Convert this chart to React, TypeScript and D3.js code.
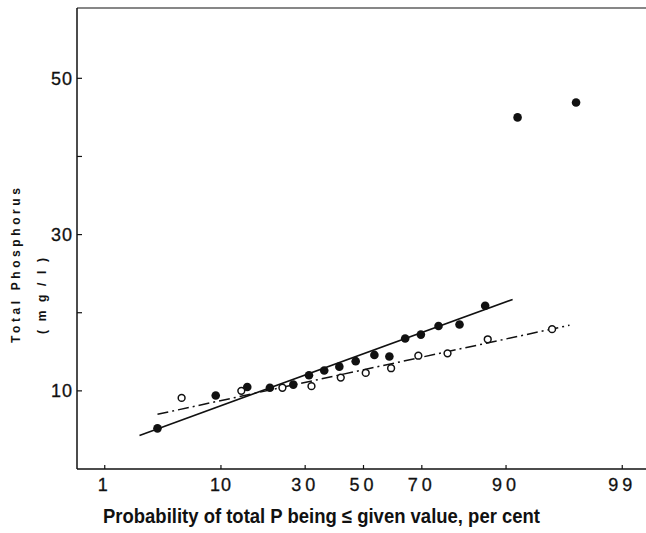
import React from "react";
import * as d3 from "d3";

// Filled circles (series 1): cumulative probability (%) and total P (mg/l)
const filledProb = [3.2, 9.2, 14.8, 20.0, 26.4, 31.2, 36.2, 41.4, 47.2, 53.9, 59.2, 64.6, 69.7, 75.0, 80.6, 86.3, 91.7, 97.2];
const filledValue = [5.2, 9.4, 10.5, 10.4, 10.8, 12.0, 12.6, 13.1, 13.8, 14.6, 14.4, 16.7, 17.2, 18.3, 18.5, 20.9, 45.0, 46.9];

// Open circles (series 2)
const openProb = [5.1, 13.6, 23.3, 32.0, 41.9, 50.8, 59.8, 68.9, 77.5, 86.8, 95.5];
const openValue = [9.1, 10.0, 10.4, 10.6, 11.7, 12.3, 12.9, 14.5, 14.8, 16.6, 17.9];

// Fitted lines
const solidLineProb = [2.2, 91.0];
const solidLineValue = [4.3, 21.7];
const dashLineProb = [3.2, 96.8];
const dashLineValue = [7.0, 18.4];

// Axes
const xTickValues = [1, 10, 30, 50, 70, 90, 99];
const xTickLabels = ["1", "10", "30", "50", "70", "90", "99"];
const yTickValues = [10, 20, 30, 40, 50];
const yTickLabels = ["10", "", "30", "", "50"];
const xDomainProb = [0.5, 99.5];
const yDomain = [0, 59];

const xTitle = "Probability of total P being \u2264 given value, per cent";
const yTitle1 = "Total  Phosphorus";
const yTitle2 = "(mg/l)";

// inverse standard normal CDF (Acklam)
function probit(p: number): number {
  const a = [-3.969683028665376e1, 2.209460984245205e2, -2.759285104469687e2, 1.38357751867269e2, -3.066479806614716e1, 2.506628277459239];
  const b = [-5.447609879822406e1, 1.615858368580409e2, -1.556989798598866e2, 6.680131188771972e1, -1.328068155288572e1];
  const c = [-7.784894002430293e-3, -3.223964580411365e-1, -2.400758277161838, -2.549732539343734, 4.374664141464968, 2.938163982698783];
  const d = [7.784695709041462e-3, 3.224671290700398e-1, 2.445134137142996, 3.754408661907416];
  const pl = 0.02425;
  if (p < pl) {
    const q = Math.sqrt(-2 * Math.log(p));
    return (((((c[0] * q + c[1]) * q + c[2]) * q + c[3]) * q + c[4]) * q + c[5]) / ((((d[0] * q + d[1]) * q + d[2]) * q + d[3]) * q + 1);
  }
  if (p <= 1 - pl) {
    const q = p - 0.5;
    const r = q * q;
    return ((((((a[0] * r + a[1]) * r + a[2]) * r + a[3]) * r + a[4]) * r + a[5]) * q) / (((((b[0] * r + b[1]) * r + b[2]) * r + b[3]) * r + b[4]) * r + 1);
  }
  const q = Math.sqrt(-2 * Math.log(1 - p));
  return -(((((c[0] * q + c[1]) * q + c[2]) * q + c[3]) * q + c[4]) * q + c[5]) / ((((d[0] * q + d[1]) * q + d[2]) * q + d[3]) * q + 1);
}

const W = 646;
const H = 533;
const left = 77;
const right = 650;
const top = 8;
const bottom = 469;

export default function App() {
  const zScale = d3
    .scaleLinear()
    .domain([probit(xDomainProb[0] / 100), probit(xDomainProb[1] / 100)])
    .range([left, right]);
  const x = (p: number) => zScale(probit(p / 100));
  const y = d3.scaleLinear().domain(yDomain).range([bottom, top]);

  const line = d3
    .line<[number, number]>()
    .x((d) => x(d[0]))
    .y((d) => y(d[1]));

  const solidPts: [number, number][] = solidLineProb.map((p, i) => [p, solidLineValue[i]]);
  const dashPts: [number, number][] = dashLineProb.map((p, i) => [p, dashLineValue[i]]);

  const font = "'Liberation Sans', Arial, Helvetica, sans-serif";
  const ink = "#111";

  return (
    <svg
      width={W}
      height={H}
      style={{ position: "absolute", left: 0, top: 0, background: "#fff" }}
      fontFamily={font}
    >
      <rect x={0} y={0} width={W} height={H} fill="#fff" />
      {/* frame */}
      <line x1={left} y1={top} x2={left} y2={bottom} stroke={ink} strokeWidth={1.5} />
      <line x1={left} y1={bottom} x2={right} y2={bottom} stroke={ink} strokeWidth={1.5} />
      <line x1={left} y1={top} x2={right} y2={top} stroke={ink} strokeWidth={1.2} />

      {/* y ticks */}
      {yTickValues.map((v, i) => (
        <g key={"yt" + i}>
          <line x1={left} x2={left + 5} y1={y(v)} y2={y(v)} stroke={ink} strokeWidth={1.2} />
          {yTickLabels[i] && (
            <text x={left - 4} y={y(v)} dy="0.36em" textAnchor="end" fontSize={18} fill={ink} letterSpacing={1} stroke={ink} strokeWidth={0.3}>
              {yTickLabels[i]}
            </text>
          )}
        </g>
      ))}

      {/* x ticks */}
      {xTickValues.map((p, i) => (
        <g key={"xt" + i}>
          <line x1={x(p)} x2={x(p)} y1={bottom} y2={bottom - 4} stroke={ink} strokeWidth={1.2} />
          <text
            x={x(p)}
            y={491}
            textAnchor="middle"
            fontSize={18}
            fill={ink}
            stroke={ink}
            strokeWidth={0.3}
            letterSpacing={xTickLabels[i] === "10" ? 1 : 4}
          >
            {xTickLabels[i]}
          </text>
        </g>
      ))}

      {/* fitted lines */}
      <path d={line(solidPts) || ""} fill="none" stroke={ink} strokeWidth={1.6} />
      <path d={line(dashPts) || ""} fill="none" stroke={ink} strokeWidth={1.5} strokeDasharray="11 4 2 4" />

      {/* points */}
      {filledProb.map((p, i) => (
        <circle key={"f" + i} cx={x(p)} cy={y(filledValue[i])} r={4.3} fill={ink} />
      ))}
      {openProb.map((p, i) => (
        <circle key={"o" + i} cx={x(p)} cy={y(openValue[i])} r={3.4} fill="#fff" stroke={ink} strokeWidth={1.5} />
      ))}

      {/* axis titles */}
      <text
        x={103}
        y={523}
        fontSize={20}
        fontWeight="bold"
        fill={ink}
        fontFamily="'Liberation Sans Narrow', 'Liberation Sans', Arial, sans-serif"
        textLength={437}
        lengthAdjust="spacingAndGlyphs"
      >
        {xTitle}
      </text>
      <text
        transform="translate(20,343) rotate(-90)"
        fontSize={12}
        fontWeight="bold"
        fill={ink}
        textLength={155}
        lengthAdjust="spacing"
      >
        {yTitle1}
      </text>
      <text
        transform="translate(46,334) rotate(-90)"
        fontSize={12}
        fontWeight="bold"
        fill={ink}
        textLength={76}
        lengthAdjust="spacing"
      >
        {yTitle2}
      </text>
    </svg>
  );
}
